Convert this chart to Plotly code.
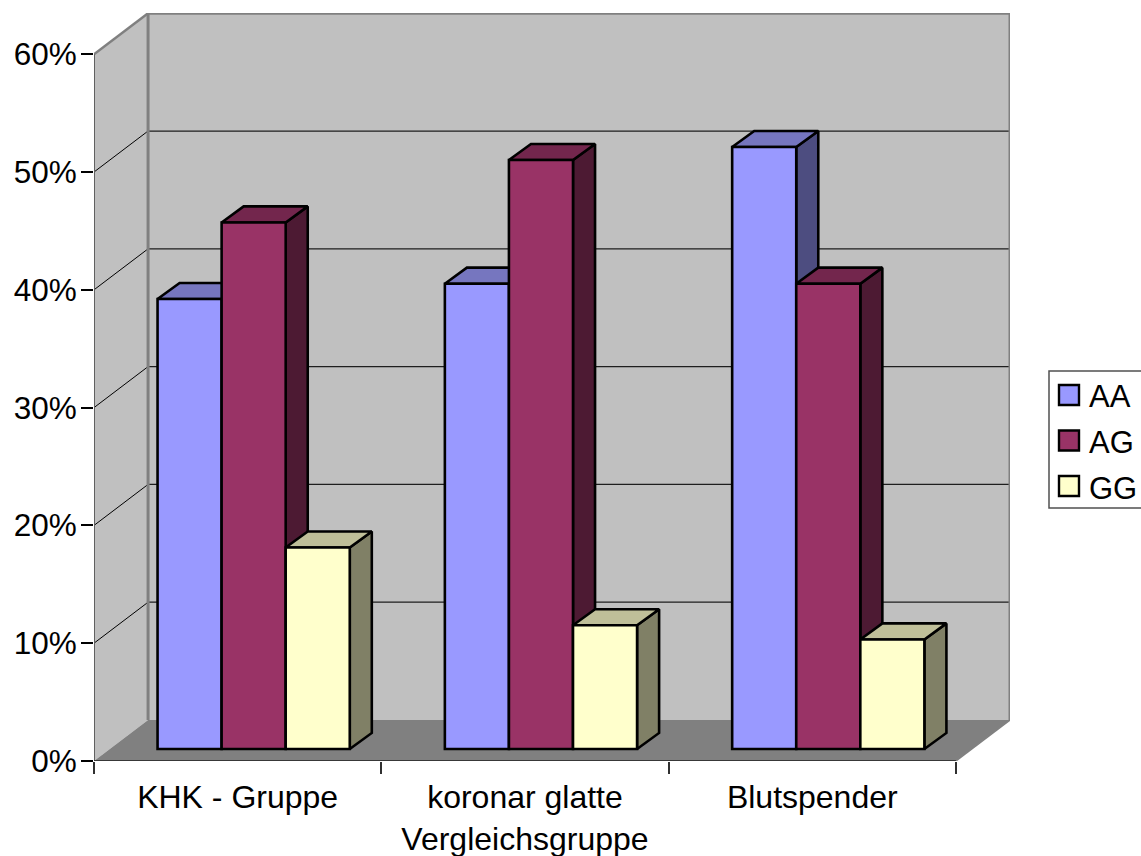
import plotly.graph_objects as go

# Genotype shares per study group, in percent
categories = ["KHK - Gruppe", "koronar glatte<br>Vergleichsgruppe", "Blutspender"]
aa_values = [38.2, 39.5, 51.1]
ag_values = [44.7, 50.0, 39.5]
gg_values = [17.1, 10.5, 9.3]
axis_ticks = [0, 10, 20, 30, 40, 50, 60]
axis_labels = ["0%", "10%", "20%", "30%", "40%", "50%", "60%"]

series = [
    ("AA", aa_values, "#9999FF", "#7676BF", "#4D4D80"),
    ("AG", ag_values, "#993366", "#73264D", "#4D1A33"),
    ("GG", gg_values, "#FFFFCC", "#BFBF99", "#808066"),
]

# Oblique projection: depth offsets expressed in axis units
WALL_DX, WALL_DY = 0.1882, 3.48     # floor depth
BAR_DX, BAR_DY = 0.0767, 1.36       # depth of a single bar
FRONT_DX, FRONT_DY = 0.0557, 1.02   # gap from axis plane to bar fronts
BAR_W = 0.223
N = len(categories)
Y_TOP = 63.5
X_TOP = N + WALL_DX
FONT = "Liberation Sans, Arial, sans-serif"

WALL = "#C0C0C0"
EDGE = "#808080"
GRID = "#1E1E1E"
BAR_LINE = 2.6

fig = go.Figure()


def poly(xs, ys, fill, line_color=None, line_width=0):
    fig.add_trace(go.Scatter(
        x=xs, y=ys, mode="lines", fill="toself", fillcolor=fill,
        line=dict(color=line_color or fill, width=line_width),
        hoverinfo="skip", showlegend=False, cliponaxis=False,
    ))


def segment(xs, ys, color, width):
    fig.add_trace(go.Scatter(
        x=xs, y=ys, mode="lines", line=dict(color=color, width=width),
        hoverinfo="skip", showlegend=False, cliponaxis=False,
    ))


# Walls and floor
poly([WALL_DX, X_TOP, X_TOP, WALL_DX, WALL_DX],
     [WALL_DY, WALL_DY, 60 + WALL_DY, 60 + WALL_DY, WALL_DY], WALL)
poly([0, WALL_DX, WALL_DX, 0, 0], [0, WALL_DY, 60 + WALL_DY, 60, 0], WALL)
poly([0, N, X_TOP, WALL_DX, 0], [0, 0, WALL_DY, WALL_DY, 0], EDGE)

# Gridlines running over the side wall and along the back wall
for t in axis_ticks[1:-1]:
    segment([0, WALL_DX], [t, t + WALL_DY], "#000000", 1)
    segment([WALL_DX, X_TOP], [t + WALL_DY, t + WALL_DY], GRID, 1.2)

# Wall outlines
segment([WALL_DX, WALL_DX], [WALL_DY, 60 + WALL_DY], EDGE, 3)
segment([WALL_DX, X_TOP, X_TOP], [60 + WALL_DY, 60 + WALL_DY, WALL_DY], EDGE, 3)
segment([0, WALL_DX], [60, 60 + WALL_DY], EDGE, 2.5)
segment([N, X_TOP], [0, WALL_DY], EDGE, 1.5)
segment([0, 0], [0, 60], "#606060", 2)
segment([0, N], [0, 0], "#202020", 1.5)

# Top and side faces of every bar, painted below the front faces
for s_idx, (name, values, front, top, side) in enumerate(series):
    for c_idx, v in enumerate(values):
        left = c_idx + 0.5 + FRONT_DX + (s_idx - 1.5) * BAR_W
        right = left + BAR_W
        y0 = FRONT_DY
        y1 = FRONT_DY + v
        poly([right, right + BAR_DX, right + BAR_DX, right, right],
             [y0, y0 + BAR_DY, y1 + BAR_DY, y1, y0], side, "#000000", BAR_LINE)
        poly([left, right, right + BAR_DX, left + BAR_DX, left],
             [y1, y1, y1 + BAR_DY, y1 + BAR_DY, y1], top, "#000000", BAR_LINE)

# Front faces sit on an overlaid pair of axes so they cover the side faces
group_centres = [i + 0.5 + FRONT_DX for i in range(N)]
for name, values, front, top, side in series:
    fig.add_trace(go.Bar(
        x=group_centres, y=values, base=[FRONT_DY] * N, name=name,
        marker=dict(color=front, line=dict(color="#000000", width=BAR_LINE)),
        xaxis="x2", yaxis="y2", showlegend=False,
    ))

# Legend entries
for name, values, front, top, side in series:
    fig.add_trace(go.Scatter(
        x=[None], y=[None], mode="markers", name=name, legendgroup=name,
        marker=dict(symbol="square", size=8, color=front, line=dict(width=0)),
    ))

# The plot area ends at the axis domain; the legend occupies the strip beside it
PLOT_W = 1047
PLOT_H = 748
PLOT_DOMAIN = 916 / PLOT_W
LEGEND_X = 955 / PLOT_W

# Legend frame, running off the right edge of the page
legend_shapes = [dict(
    type="rect", xref="paper", yref="paper", layer="below",
    x0=LEGEND_X, x1=1.05, y0=(761 - 508) / PLOT_H, y1=(761 - 371) / PLOT_H,
    line=dict(color="#505050", width=1.5),
)]

# Legend keys are capped at 16 px by plotly, so the outlined squares are drawn as
# shapes around the small keys, which carry the same fill colour
SWATCH_CENTRE_Y = [395, 440.5, 486]
for (name, values, front, top, side), cy in zip(series, SWATCH_CENTRE_Y):
    legend_shapes.append(dict(
        type="rect", xref="paper", yref="paper", layer="above",
        x0=(1059 - 94) / PLOT_W, x1=(1079 - 94) / PLOT_W,
        y0=(761 - cy - 10) / PLOT_H, y1=(761 - cy + 10) / PLOT_H,
        fillcolor=front, line=dict(color="#000000", width=2.4),
    ))

fig.update_layout(
    width=1141, height=856,
    margin=dict(l=94, r=0, t=13, b=95, pad=0, autoexpand=False),
    paper_bgcolor="white", plot_bgcolor="white",
    font=dict(family=FONT, size=31, color="#000000"),
    barmode="group", bargap=1 - 3 * BAR_W, bargroupgap=0,
    xaxis=dict(
        domain=[0, PLOT_DOMAIN], automargin=False,
        range=[0, X_TOP], showgrid=False, zeroline=False, showline=False,
        tickmode="array", tickvals=[i + 0.5 for i in range(N)], ticktext=categories,
        ticks="outside", ticklen=8, tickcolor="rgba(0,0,0,0)", tickangle=0,
        tickfont=dict(size=32),
        minor=dict(tickmode="array", tickvals=list(range(N + 1)), ticks="outside",
                   ticklen=12, tickwidth=1.5, tickcolor="#303030", showgrid=False),
    ),
    yaxis=dict(
        automargin=False,
        range=[0, Y_TOP], showgrid=False, zeroline=False, showline=False,
        tickmode="array", tickvals=axis_ticks, ticktext=axis_labels,
        ticks="outside", ticklen=12, tickwidth=1.5, tickcolor="#000000",
        tickfont=dict(size=31.5), ticklabelstandoff=-2,
    ),
    xaxis2=dict(range=[0, X_TOP], overlaying="x", anchor="y2", visible=False),
    yaxis2=dict(range=[0, Y_TOP], overlaying="y", anchor="x2", visible=False),
    legend=dict(
        x=LEGEND_X, xanchor="left", y=0.5254, yanchor="top",
        bgcolor="rgba(0,0,0,0)", borderwidth=0,
        traceorder="grouped", tracegroupgap=3,
        entrywidth=52, entrywidthmode="pixels",
        font=dict(family=FONT, size=31),
    ),
    showlegend=True,
    shapes=legend_shapes,
)

fig.write_html("out.html", config=dict(displayModeBar=False))
